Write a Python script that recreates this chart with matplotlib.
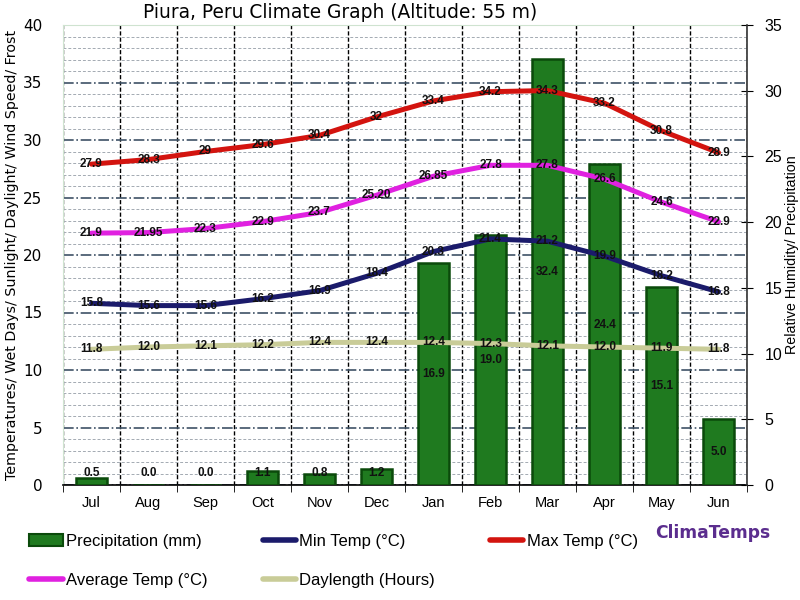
import numpy as np
import matplotlib
matplotlib.use('Agg')
import matplotlib.pyplot as plt
from matplotlib.lines import Line2D
from matplotlib.patches import Patch

months = ['Jul', 'Aug', 'Sep', 'Oct', 'Nov', 'Dec',
          'Jan', 'Feb', 'Mar', 'Apr', 'May', 'Jun']
precip = [0.5, 0.0, 0.0, 1.1, 0.8, 1.2, 16.9, 19.0, 32.4, 24.4, 15.1, 5.0]
min_temp = [15.8, 15.6, 15.6, 16.2, 16.9, 18.4, 20.3, 21.4, 21.2, 19.9, 18.2, 16.8]
max_temp = [27.9, 28.3, 29, 29.6, 30.4, 32, 33.4, 34.2, 34.3, 33.2, 30.8, 28.9]
avg_temp = [21.9, 21.95, 22.3, 22.9, 23.7, 25.20, 26.85, 27.8, 27.8, 26.6, 24.6, 22.9]
avg_lbl = ['21.9', '21.95', '22.3', '22.9', '23.7', '25.20',
           '26.85', '27.8', '27.8', '26.6', '24.6', '22.9']
daylen = [11.8, 12.0, 12.1, 12.2, 12.4, 12.4, 12.4, 12.3, 12.1, 12.0, 11.9, 11.8]

RED = '#d3140f'
NAVY = '#1b1b6b'
MAGENTA = '#e021e0'
KHAKI = '#c9cc98'
GREEN = '#1f7a1f'
DKGREEN = '#0b4a0b'

x = np.arange(len(months))

fig = plt.figure(figsize=(8, 6), dpi=100)
fig.patch.set_facecolor('white')
pos = [63/800, 1-485/600, (747-63)/800, (485-25)/600]

# ── base axes: left scale + grid ──
ax1 = fig.add_axes(pos)
ax1.set_xlim(-0.5, 11.5)
ax1.set_ylim(0, 40)
ax1.set_yticks(range(0, 41, 5))
ax1.set_yticks(range(0, 41, 1), minor=True)
ax1.set_xticks(x)
ax1.set_xticks(np.arange(-0.5, 12, 1), minor=True)
ax1.set_xticklabels(months, fontsize=10.5, family='Liberation Sans')
ax1.tick_params(axis='y', which='both', length=0, labelsize=11, pad=15)
ax1.tick_params(axis='x', which='major', length=0, pad=8)
ax1.tick_params(axis='x', which='minor', length=5, color='black')
ax1.grid(which='major', axis='y', ls='-.', color='#3e5266', lw=1.2)
ax1.grid(which='minor', axis='y', ls=(0, (3, 2)), color='#a3aab2', lw=0.7)
ax1.grid(which='minor', axis='x', ls=(0, (3, 1.5)), color='black', lw=1.0)
ax1.set_axisbelow(True)
for s in ['left', 'top']:
    ax1.spines[s].set_color('#cfe3d0')
ax1.spines['right'].set_visible(False)
ax1.spines['bottom'].set_color('black')
ax1.spines['bottom'].set_linewidth(1.2)
ax1.set_ylabel('Temperatures/ Wet Days/ Sunlight/ Daylight/ Wind Speed/ Frost',
               fontsize=10.3, labelpad=3)

# ── precipitation bars on right scale ──
ax2 = ax1.twinx()
ax2.patch.set_visible(False)
ax2.set_ylim(0, 35)
ax2.set_yticks(range(0, 36, 5))
ax2.bar(x, precip, width=0.55, color=GREEN, edgecolor=DKGREEN, lw=1.8)
for xi, v in zip(x, precip):
    ax2.text(xi, max(v / 2, 0.9), f'{v:.1f}', ha='center', va='center',
             fontsize=8.5, fontweight='bold', color='#111111',
             family='Liberation Sans')
ax2.tick_params(axis='y', direction='inout', length=9, labelsize=11.5,
                pad=8, labelfontfamily='Liberation Sans')
for s in ['left', 'top', 'bottom']:
    ax2.spines[s].set_visible(False)
ax2.spines['right'].set_color('#333333')
ax2.spines['right'].set_linewidth(1.2)
ax2.set_ylabel('Relative Humidity/ Precipitation', fontsize=10.3,
               family='Liberation Sans', labelpad=2)

# ── temperature / daylength lines on top ──
ax3 = fig.add_axes(pos, sharex=ax1, sharey=ax1)
ax3.patch.set_visible(False)
ax3.axis('off')

series = [(max_temp, RED, [f'{v:g}' for v in max_temp]),
          (avg_temp, MAGENTA, avg_lbl),
          (min_temp, NAVY, [f'{v:g}' for v in min_temp]),
          (daylen, KHAKI, [f'{v:.1f}' for v in daylen])]
for vals, col, lbls in series:
    ax3.plot(x, vals, color=col, lw=3.6, solid_joinstyle='round',
             solid_capstyle='round')
    for xi, v, t in zip(x, vals, lbls):
        ax3.text(xi, v, t, ha='center', va='center', fontsize=8.5,
                 fontweight='bold', color='#111111', family='Liberation Sans')

fig.text(340/800, 1-13/600, 'Piura, Peru Climate Graph (Altitude: 55 m)',
         ha='center', va='center', fontsize=13.4)

handles = [Patch(facecolor=GREEN, edgecolor=DKGREEN, lw=1.5),
           Line2D([], [], color=MAGENTA, lw=4, solid_capstyle='round'),
           Line2D([], [], color=NAVY, lw=4, solid_capstyle='round'),
           Line2D([], [], color=KHAKI, lw=4, solid_capstyle='round'),
           Line2D([], [], color=RED, lw=4, solid_capstyle='round')]
labels = ['Precipitation (mm)', 'Average Temp (°C)', 'Min Temp (°C)',
          'Daylength (Hours)', 'Max Temp (°C)']
fig.legend(handles, labels, loc='upper left', bbox_to_anchor=(0.018, 1-519/600),
           ncol=3, frameon=False, handlelength=2.0, handletextpad=0.2,
           columnspacing=3.3, labelspacing=1.45,
           prop={'family': 'Liberation Sans', 'size': 12})

fig.text(655/800, 1-533/600, 'ClimaTemps', ha='left', va='center',
         fontsize=12.3, fontweight='bold', color='#5b2d8e')

fig.savefig('out.png', dpi=100, facecolor='white')
